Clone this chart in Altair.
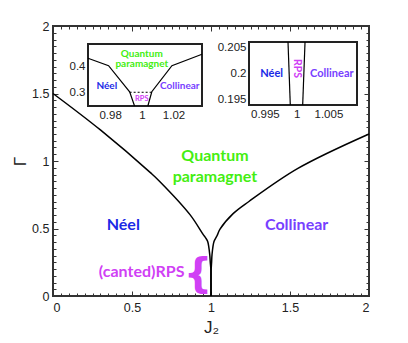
import altair as alt
import pandas as pd

# ---------------- data ----------------
# main phase boundaries
left_x = [0.0, 0.3, 0.62, 0.677, 0.867, 0.951, 0.966, 0.979, 0.9923, 0.9954, 0.9986, 0.999, 0.999]
left_y = [1.5, 1.23, 0.91, 0.847, 0.603, 0.455, 0.431, 0.403, 0.304, 0.25, 0.206, 0.194, 0.0]
right_x = [1.001, 1.00095, 1.0013, 1.0038, 1.0063, 1.019, 1.038, 1.057, 1.14, 1.24, 1.55, 2.0]
right_y = [0.0, 0.194, 0.206, 0.25, 0.304, 0.403, 0.446, 0.495, 0.61, 0.70, 0.945, 1.2]

main_ticks = [0, 0.5, 1, 1.5, 2]
main_minor = [0.05, 0.1, 0.15, 0.2, 0.25, 0.3, 0.35, 0.4, 0.45,
              0.55, 0.6, 0.65, 0.7, 0.75, 0.8, 0.85, 0.9, 0.95,
              1.05, 1.1, 1.15, 1.2, 1.25, 1.3, 1.35, 1.4, 1.45,
              1.55, 1.6, 1.65, 1.7, 1.75, 1.8, 1.85, 1.9, 1.95]

main_lab_text = ["Quantum", "paramagnet", "Néel", "Collinear", "(canted)RPS"]
main_lab_phase = ["qp", "qp", "neel", "coll", "rps"]
main_lab_x = [1.025, 1.025, 0.445, 1.542, 0.561]
main_lab_y = [1.037, 0.884, 0.526, 0.526, 0.176]
brace_x = [0.918]
brace_y = [0.155]

# inset 1
in1_xdom = [0.966, 1.038]
in1_ydom = [0.25, 0.485]
in1_xticks = [0.98, 1, 1.02]
in1_yticks = [0.3, 0.4]
in1_left_x = [0.966, 0.979, 0.9923, 0.9954]
in1_left_y = [0.431, 0.403, 0.304, 0.25]
in1_right_x = [1.0038, 1.0063, 1.019, 1.038]
in1_right_y = [0.25, 0.304, 0.403, 0.446]
in1_dash_x = [0.9923, 1.0063]
in1_dash_y = [0.302, 0.302]
in1_lab_text = ["Quantum", "paramagnet", "Néel", "Collinear"]
in1_lab_phase = ["qp", "qp", "neel", "coll"]
in1_lab_x = [1.0, 1.0, 0.9779, 1.024]
in1_lab_y = [0.448, 0.408, 0.325, 0.325]
in1_rps_x = [1.0]
in1_rps_y = [0.2775]

# inset 2
in2_xdom = [0.9925, 1.0095]
in2_ydom = [0.194, 0.206]
in2_xticks = [0.995, 1, 1.005]
in2_yticks = [0.195, 0.2, 0.205]
in2_left_x = [0.99864, 0.999]
in2_left_y = [0.206, 0.194]
in2_right_x = [1.00132, 1.00095]
in2_right_y = [0.206, 0.194]
in2_lab_text = ["Néel", "Collinear"]
in2_lab_phase = ["neel", "coll"]
in2_lab_x = [0.99606, 1.00554]
in2_lab_y = [0.2, 0.2]
in2_rps_x = [1.0]
in2_rps_y = [0.20094]

# ---------------- layout / style ----------------
W, H = 316, 270
IN1_X = [35, 149]
IN1_Y = [80, 18]
IN2_X = [196, 304]
IN2_Y = [79, 16]
AXFONT = "Liberation Sans"
TXTFONT = "Lato"
phase_dom = ["qp", "neel", "coll", "rps"]
phase_col = ["#44ee11", "#1a2ae6", "#7740ff", "#d040f5"]
color_scale = alt.Scale(domain=phase_dom, range=phase_col)


def curves_df(xa, ya, xb, yb):
    return pd.DataFrame({
        "x": xa + xb,
        "y": ya + yb,
        "curve": ["a"] * len(xa) + ["b"] * len(xb),
        "i": list(range(len(xa))) + list(range(len(xb))),
    })


main_df = curves_df(left_x, left_y, right_x, right_y)
xs_main = alt.Scale(domain=[0, 2], nice=False, zero=False)
ys_main = alt.Scale(domain=[0, 2], nice=False, zero=False)

x_lab_axis = alt.Axis(orient="bottom", values=main_ticks, format="~g", ticks=False,
                      domain=False, grid=False, labelPadding=5, labelFontSize=12.5,
                      labelFont=AXFONT, labelColor="#222", title="J₂", titleFont=AXFONT,
                      titleFontSize=17, titleFontWeight="normal", titlePadding=6,
                      titleColor="#222")
y_lab_axis = alt.Axis(orient="left", values=main_ticks, format="~g", ticks=False,
                      domain=False, grid=False, labelPadding=4, labelFontSize=12.5,
                      labelFont=AXFONT, labelColor="#222", title="Γ", titleFont=AXFONT,
                      titleFontSize=17, titleFontWeight="normal", titlePadding=2,
                      titleColor="#222")

main_line = alt.Chart(main_df).mark_line(color="black", strokeWidth=1.5,
                                         interpolate="catmull-rom").encode(
    x=alt.X("x:Q", scale=xs_main, axis=x_lab_axis),
    y=alt.Y("y:Q", scale=ys_main, axis=y_lab_axis),
    detail="curve:N",
    order="i:Q",
)


def ghost(xorient, yorient, vals, size):
    xa = alt.Axis(orient=xorient, offset=-H, values=vals, labels=False, domain=False,
                  grid=False, tickSize=size, tickColor="#333", tickWidth=1, title=None)
    ya = alt.Axis(orient=yorient, offset=-W, values=vals, labels=False, domain=False,
                  grid=False, tickSize=size, tickColor="#333", tickWidth=1, title=None)
    return alt.Chart(main_df).mark_point(opacity=0).encode(
        x=alt.X("x:Q", scale=xs_main, axis=xa),
        y=alt.Y("y:Q", scale=ys_main, axis=ya),
    )


main_lab_df = pd.DataFrame({"x": main_lab_x, "y": main_lab_y, "t": main_lab_text,
                            "p": main_lab_phase})
main_text = alt.Chart(main_lab_df).mark_text(font=TXTFONT, fontWeight="bold",
                                             fontSize=16).encode(
    x=alt.X("x:Q", scale=xs_main, axis=None),
    y=alt.Y("y:Q", scale=ys_main, axis=None),
    text="t:N",
    color=alt.Color("p:N", scale=color_scale, legend=None),
)
brace = alt.Chart(pd.DataFrame({"x": brace_x, "y": brace_y})).mark_text(
    text="{", font="DejaVu Sans", fontWeight="bold", fontSize=40, color="#d040f5",
    baseline="middle"
).encode(
    x=alt.X("x:Q", scale=xs_main, axis=None),
    y=alt.Y("y:Q", scale=ys_main, axis=None),
)

main_layer = alt.layer(
    main_line,
    ghost("top", "right", main_ticks, 5),
    ghost("top", "right", main_minor, 3),
    ghost("bottom", "left", main_ticks, 5),
    ghost("bottom", "left", main_minor, 3),
    main_text,
    brace,
).resolve_axis(x="independent", y="independent")


def inset(xdom, ydom, xr, yr, xticks, yticks, dfc, labs, lab_size, rps, rps_size,
          rps_angle, extra=None):
    xsc = alt.Scale(domain=xdom, range=xr, nice=False, zero=False)
    ysc = alt.Scale(domain=ydom, range=yr, nice=False, zero=False)
    xa = alt.Axis(orient="bottom", offset=-(H - yr[0]), values=xticks,
                  format="~g", ticks=False, domain=False, grid=False, labelPadding=3,
                  labelFontSize=11.5, labelFont=AXFONT, labelColor="#222", title=None)
    ya = alt.Axis(orient="left", offset=-xr[0], values=yticks, format="~g",
                  ticks=False, domain=False, grid=False, labelPadding=3,
                  labelFontSize=11.5, labelFont=AXFONT, labelColor="#222", title=None)
    box = alt.Chart(pd.DataFrame({"a": [0]})).mark_rect(
        fill="white", stroke="#222", strokeWidth=2
    ).encode(
        x=alt.XDatum(xdom[0], scale=xsc, axis=xa),
        x2=alt.X2Datum(xdom[1]),
        y=alt.YDatum(ydom[0], scale=ysc, axis=ya),
        y2=alt.Y2Datum(ydom[1]),
    )
    lines = alt.Chart(dfc).mark_line(color="black", strokeWidth=1.2).encode(
        x=alt.X("x:Q", scale=xsc, axis=xa),
        y=alt.Y("y:Q", scale=ysc, axis=ya),
        detail="curve:N",
        order="i:Q",
    )
    layers = [box, lines]
    if extra is not None:
        layers.append(alt.Chart(extra).mark_line(color="black", strokeWidth=1,
                                                 strokeDash=[2, 2]).encode(
            x=alt.X("x:Q", scale=xsc, axis=xa),
            y=alt.Y("y:Q", scale=ysc, axis=ya),
        ))
    layers.append(alt.Chart(labs).mark_text(font=TXTFONT, fontWeight="bold",
                                            fontSize=lab_size).encode(
        x=alt.X("x:Q", scale=xsc, axis=xa),
        y=alt.Y("y:Q", scale=ysc, axis=ya),
        text="t:N",
        color=alt.Color("p:N", scale=color_scale, legend=None),
    ))
    layers.append(alt.Chart(rps).mark_text(text="RPS", font=TXTFONT, fontWeight="bold",
                                           fontSize=rps_size, angle=rps_angle,
                                           color="#d040f5").encode(
        x=alt.X("x:Q", scale=xsc, axis=xa),
        y=alt.Y("y:Q", scale=ysc, axis=ya),
    ))
    return alt.layer(*layers)


in1 = inset(in1_xdom, in1_ydom, IN1_X, IN1_Y, in1_xticks, in1_yticks,
            curves_df(in1_left_x, in1_left_y, in1_right_x, in1_right_y),
            pd.DataFrame({"x": in1_lab_x, "y": in1_lab_y, "t": in1_lab_text,
                          "p": in1_lab_phase}), 10,
            pd.DataFrame({"x": in1_rps_x, "y": in1_rps_y}), 7.5, 0,
            extra=pd.DataFrame({"x": in1_dash_x, "y": in1_dash_y}))
in2 = inset(in2_xdom, in2_ydom, IN2_X, IN2_Y, in2_xticks, in2_yticks,
            curves_df(in2_left_x, in2_left_y, in2_right_x, in2_right_y),
            pd.DataFrame({"x": in2_lab_x, "y": in2_lab_y, "t": in2_lab_text,
                          "p": in2_lab_phase}), 11,
            pd.DataFrame({"x": in2_rps_x, "y": in2_rps_y}), 10.5, 90)

chart = alt.layer(main_layer, in1, in2).resolve_scale(
    x="independent", y="independent"
).properties(
    width=W, height=H,
    padding={"left": 45, "top": 18, "right": 20, "bottom": 40},
    autosize=alt.AutoSizeParams(type="none"),
).configure_view(stroke="#333", strokeWidth=2)

chart.save("out.html", embed_options={"renderer": "svg", "actions": False})
